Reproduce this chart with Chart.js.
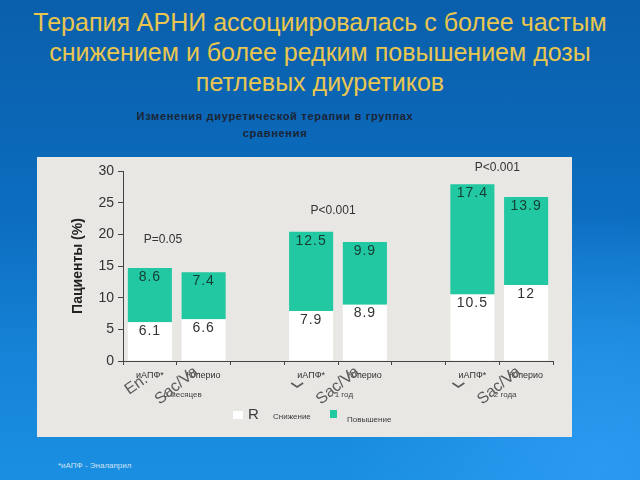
<!DOCTYPE html>
<html>
<head>
<meta charset="utf-8">
<script src="https://cdn.jsdelivr.net/npm/chart.js@4.4.0/dist/chart.umd.min.js"></script>
<style>
  html, body { margin: 0; padding: 0; }
  body {
    width: 640px; height: 480px; overflow: hidden; position: relative;
    font-family: "Liberation Sans", Arial, sans-serif;
    background: radial-gradient(circle at 600px 470px, #2a9af0 0px, rgba(30,140,230,0) 260px),
                linear-gradient(180deg, #0a5fab 0%, #0c6dbf 45%, #1684d8 75%, #1a8fe2 100%);
  }
  #title {
    position: absolute; left: 0; top: 7px; width: 640px;
    text-align: center; color: #e9c64f; font-size: 25px; line-height: 30px;
  }
  #subtitle {
    position: absolute; left: 100px; top: 108px; width: 350px;
    text-align: center; color: #1b2434; font-size: 11px; font-weight: bold; line-height: 17px;
    letter-spacing: 0.7px;
  }
  #panel {
    position: absolute; left: 37px; top: 157px; width: 535px; height: 280px;
    background: #e9e7e4;
  }
  #footnote {
    position: absolute; left: 58px; top: 461px; color: #cfe2f3; font-size: 8px;
  }
</style>
</head>
<body>
<div id="title">Терапия АРНИ ассоциировалась с более частым<br>снижением и более редким повышением дозы<br>петлевых диуретиков</div>
<div id="subtitle">Изменения диуретической терапии в группах<br>сравнения</div>
<div id="panel"><canvas id="chart" width="535" height="280"></canvas></div>
<div id="footnote">*иАПФ - Эналаприл</div>
<script>
// bars: two per period, empty slots separate the periods
const labels = ['иАПФ*', 'Юперио', '', 'иАПФ*', 'Юперио', '', 'иАПФ*', 'Юперио'];
const decrease = [6.1, 6.6, null, 7.9, 8.9, null, 10.5, 12];
const increase = [8.6, 7.4, null, 12.5, 9.9, null, 17.4, 13.9];
const periods = ['6 месяцев', '1 год', '2 года'];
const pValues = ['P=0.05', 'P<0.001', 'P<0.001'];
const yTicks = [0, 5, 10, 15, 20, 25, 30];

const GREEN = '#22c8a1';

// value labels inside each segment, near its top
const valueLabels = {
  id: 'valueLabels',
  afterDatasetsDraw(chart) {
    const ctx = chart.ctx;
    ctx.save();
    ctx.font = '14px "Liberation Sans", Arial, sans-serif';
    ctx.letterSpacing = '1px';
    ctx.textAlign = 'center';
    ctx.textBaseline = 'middle';
    chart.data.datasets.forEach((ds, i) => {
      const meta = chart.getDatasetMeta(i);
      meta.data.forEach((bar, j) => {
        if (ds.data[j] == null) return;
        ctx.fillStyle = i === 0 ? '#333333' : '#173d33';
        ctx.fillText(String(ds.data[j]), bar.x, bar.y + 9);
      });
    });
    ctx.restore();
  }
};

// p-values, period names and the overlapping rotated captions
const extras = {
  id: 'extras',
  afterDraw(chart) {
    const ctx = chart.ctx;
    const x = chart.scales.x, y = chart.scales.y;
    ctx.save();
    const pPos = [[13, 19.1], [22, 23.8], [25, 30.6]];
    ctx.font = '12px "Liberation Sans", Arial, sans-serif';
    ctx.fillStyle = '#333';
    ctx.textAlign = 'center';
    ctx.textBaseline = 'middle';
    pValues.forEach((t, g) => {
      ctx.fillText(t, x.getPixelForValue(g * 3) + pPos[g][0], y.getPixelForValue(pPos[g][1]));
    });

    const base = x.top;
    ctx.font = '8px "Liberation Sans", Arial, sans-serif';
    ctx.fillStyle = '#444';
    periods.forEach((t, g) => {
      ctx.fillText(t, x.getPixelForValue(g * 3 + 1) - 21, base + 34);
    });

    ctx.fillStyle = '#5a5a5a';
    ctx.strokeStyle = '#5a5a5a';
    ctx.font = '16px "Liberation Sans", Arial, sans-serif';
    ctx.textAlign = 'left';
    ctx.textBaseline = 'alphabetic';
    for (let g = 0; g < 3; g++) {
      const x1 = x.getPixelForValue(g * 3), x2 = x.getPixelForValue(g * 3 + 1);
      ctx.save();
      ctx.translate(x2 - 44, base + 44);
      ctx.rotate(-0.68);
      ctx.fillText('Sac/Va', 0, 0);
      ctx.restore();
      if (g === 0) {
        ctx.save();
        ctx.translate(x1 - 21, base + 34);
        ctx.rotate(-0.6);
        ctx.fillText('En.', 0, 0);
        ctx.restore();
      } else {
        // clipped glyph fragment under the first bar label
        ctx.lineWidth = 1.6;
        ctx.beginPath();
        ctx.moveTo(x1 - 20, base + 22);
        ctx.lineTo(x1 - 14, base + 26);
        ctx.lineTo(x1 - 8, base + 22);
        ctx.stroke();
      }
    }

    // legend
    const lx = -37, ly = -157;
    ctx.fillStyle = '#ffffff';
    ctx.fillRect(233 + lx, 411 + ly, 10, 8);
    ctx.fillStyle = '#3a3a3a';
    ctx.font = '15px "Liberation Sans", Arial, sans-serif';
    ctx.textBaseline = 'middle';
    ctx.fillText('R', 248 + lx, 415 + ly);
    ctx.font = '8px "Liberation Sans", Arial, sans-serif';
    ctx.fillText(chart.data.datasets[0].label, 273 + lx, 417 + ly);
    ctx.fillStyle = GREEN;
    ctx.fillRect(330 + lx, 410 + ly, 7, 8);
    ctx.fillStyle = '#3a3a3a';
    ctx.fillText(chart.data.datasets[1].label, 347 + lx, 420 + ly);
    ctx.restore();
  }
};

const ctx = document.getElementById('chart').getContext('2d');
const chart = new Chart(ctx, {
  type: 'bar',
  data: {
    labels: labels,
    datasets: [
      { label: 'Снижение', data: decrease, backgroundColor: '#ffffff' },
      { label: 'Повышение', data: increase, backgroundColor: GREEN }
    ]
  },
  options: {
    responsive: false,
    animation: false,
    layout: { padding: { top: 14, right: 19, left: 0, bottom: 0 } },
    datasets: { bar: { barPercentage: 0.82, categoryPercentage: 1 } },
    plugins: { legend: { display: false }, tooltip: { enabled: false } },
    scales: {
      x: {
        stacked: true,
        grid: { drawOnChartArea: false, drawTicks: true, tickLength: 4, color: '#444', offset: true },
        border: { display: true, color: '#444', width: 1 },
        ticks: { color: '#333', font: { size: 9, family: '"Liberation Sans", Arial' }, padding: 5, maxRotation: 0, autoSkip: false },
        afterFit(s) { s.height = 76; }
      },
      y: {
        stacked: true,
        min: 0, max: 30,
        afterBuildTicks(s) { s.ticks = yTicks.map(v => ({ value: v })); },
        grid: { drawOnChartArea: false, drawTicks: true, tickLength: 5, color: '#444' },
        border: { display: true, color: '#444', width: 1 },
        ticks: { color: '#333', font: { size: 14, family: '"Liberation Sans", Arial' }, padding: 4 },
        title: {
          display: true, text: 'Пациенты (%)', color: '#222',
          font: { size: 14, weight: 'bold', family: '"Liberation Sans", Arial' },
          padding: { top: 33, bottom: 0 }
        },
        afterFit(s) { s.width = 86; }
      }
    }
  },
  plugins: [valueLabels, extras]
});
</script>
</body>
</html>
